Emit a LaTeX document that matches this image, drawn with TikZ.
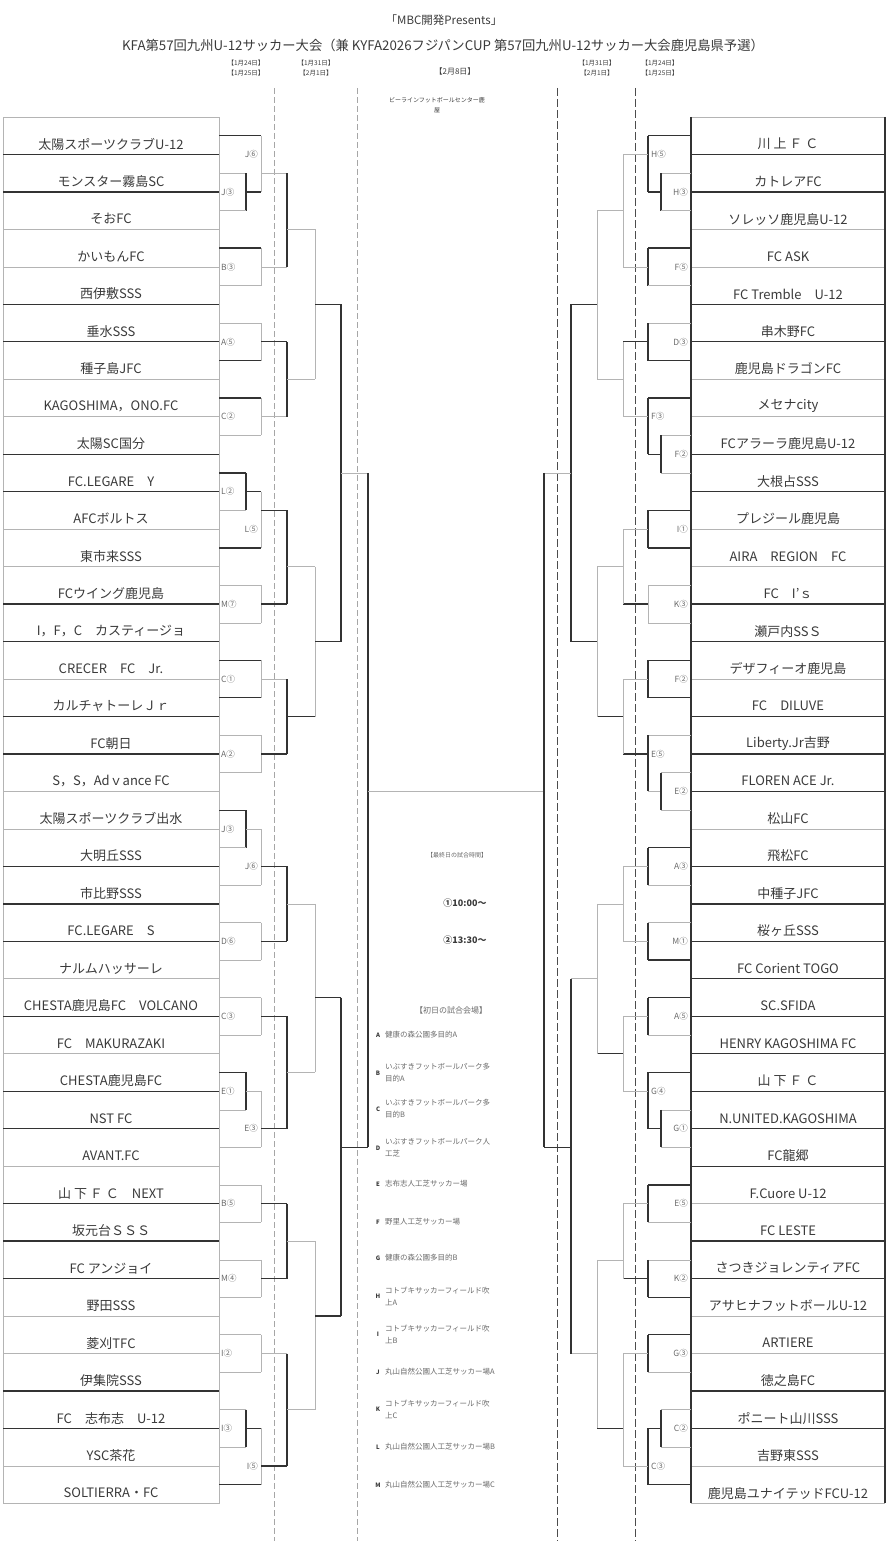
\documentclass[tikz,border=0pt]{standalone}
\usepackage{fontspec}
\setmainfont{Noto Sans CJK JP}
\usetikzlibrary{positioning}
\definecolor{thinline}{HTML}{B4B4B4}
\definecolor{thickline}{HTML}{333333}
\definecolor{inkgray}{HTML}{3A3A3A}
\definecolor{lightink}{HTML}{6A6A6A}
\tikzset{
  team/.style={font=\fontsize{13}{14}\selectfont, text=inkgray, inner sep=0pt},
  mlbl/.style={font=\fontsize{8.5}{9}\selectfont, text=lightink, inner sep=0pt},
  thn/.style={draw=thinline, line width=0.7pt},
  thk/.style={draw=thickline, line width=1.3pt},
  dshl/.style={draw=black!35, line width=0.6pt, dash pattern=on 6pt off 3pt},
  dshr/.style={draw=black!70, line width=0.8pt, dash pattern=on 8pt off 3pt},
  ttl/.style={font=\fontsize{11.5}{13}\selectfont, text=inkgray, inner sep=0pt},
  datel/.style={font=\fontsize{6.5}{10}\selectfont, text=inkgray, align=center, inner sep=0pt},
  note/.style={font=\fontsize{6}{8}\selectfont, text=lightink, inner sep=0pt, align=left},
  timel/.style={font=\fontsize{9}{10}\selectfont\bfseries, text=inkgray, inner sep=0pt},
  vlet/.style={font=\fontsize{6}{7}\selectfont\bfseries, text=inkgray, inner sep=0pt},
  vtxt/.style={font=\fontsize{7.5}{12}\selectfont, text=lightink, inner sep=0pt, align=left, anchor=west},
}
% left match box between two neighbouring teams
\newcommand{\lmatch}[7]{%
  \draw[#2] (219,#1) -- (261,#1);
  \draw[#3] (261,#1) -- (261,#1+2);
  \draw[#4] (219,#1+2) -- (261,#1+2);
  \draw[#5] (261,#1+1) -- (287,#1+1);
  \node[mlbl, anchor=west] (#7) at (221,#1+1) {#6};}
% right match box between two neighbouring teams
\newcommand{\rmatch}[7]{%
  \draw[#2] (648,#1) -- (691,#1);
  \draw[#3] (648,#1) -- (648,#1+2);
  \draw[#4] (648,#1+2) -- (691,#1+2);
  \draw[#5] (623,#1+1) -- (648,#1+1);
  \node[mlbl, anchor=east] (#7) at (688,#1+1) {#6};}

\begin{document}
\begin{tikzpicture}[x=1pt, y=-1pt]
  \useasboundingbox (0,0) rectangle (889,1541);

  % heading
  \node[ttl] (presents) at (444,20) {「MBC開発Presents」};
  \node[ttl, font=\fontsize{13.3}{15}\selectfont] (title) at (443,45)
    {KFA第57回九州U-12サッカー大会（兼 KYFA2026フジパンCUP 第57回九州U-12サッカー大会鹿児島県予選）};
  \node[datel] (dl1) at (246,68) {【1月24日】\\【1月25日】};
  \node[datel] (dl2) at (316,68) {【1月31日】\\【2月1日】};
  \node[datel, font=\fontsize{8}{9}\selectfont] (dfin) at (455,71) {【2月8日】};
  \node[datel] (dr2) at (597,68) {【1月31日】\\【2月1日】};
  \node[datel] (dr1) at (660,68) {【1月24日】\\【1月25日】};
  \node[datel, font=\fontsize{6}{10}\selectfont] (finvenue) at (437,105)
    {ビーラインフットボールセンター鹿\\屋};

  % day separators
  \draw[dshl] (274,88) -- (274,1541);
  \draw[dshl] (357,88) -- (357,1541);
  \draw[dshr] (557,88) -- (557,1541);
  \draw[dshr] (635,88) -- (635,1541);

  \begin{scope}[shift={(0,117)}, y=-18.735pt]
    % team columns
    \draw[thn] (3,0) rectangle (219,74);
    \draw[thn] (691,0) -- (885,0);
    \draw[thn] (691,74) -- (885,74);
    \foreach \w [count=\i] in {thk,thk,thn,thn,thk,thk,thn,thn,thk,thk,thn,thn,thk,thk,thn,thk,thk,thn,thn,thk,thk,thk,thn,thk,thn,thk,thk,thn,thk,thk,thk,thn,thn,thk,thk,thn,thn}
      \draw[\w] (3,2*\i) -- (219,2*\i);
    \foreach \w [count=\i] in {thk,thk,thn,thn,thk,thk,thn,thn,thk,thk,thn,thn,thk,thk,thn,thk,thk,thk,thn,thk,thk,thk,thk,thk,thk,thk,thk,thk,thn,thk,thk,thn,thn,thk,thk,thn,thn}
      \draw[\w] (691,2*\i) -- (885,2*\i);
    \draw[thk] (691,0) -- (691,74);
    \draw[thk] (885,0) -- (885,74);

    \foreach \t [count=\i from 0] in {太陽スポーツクラブU-12, モンスター霧島SC, そおFC, かいもんFC,
        西伊敷SSS, 垂水SSS, 種子島JFC, KAGOSHIMA，ONO.FC, 太陽SC国分, FC.LEGARE　Y, AFCボルトス,
        東市来SSS, FCウイング鹿児島, I，F，C　カスティージョ, CRECER　FC　Jr., カルチャトーレＪｒ,
        FC朝日, S，S，Adｖance FC, 太陽スポーツクラブ出水, 大明丘SSS, 市比野SSS, FC.LEGARE　S,
        ナルムハッサーレ, CHESTA鹿児島FC　VOLCANO, FC　MAKURAZAKI, CHESTA鹿児島FC, NST FC,
        AVANT.FC, 山 下 Ｆ Ｃ　NEXT, 坂元台ＳＳＳ, FC アンジョイ, 野田SSS, 菱刈TFC, 伊集院SSS,
        FC　志布志　U-12, YSC茶花, SOLTIERRA・FC}
      \node[team] (lt\i) at (111,2*\i+1.45) {\t};
    \foreach \t [count=\i from 0] in {川 上 Ｆ Ｃ, カトレアFC, ソレッソ鹿児島U-12, FC ASK,
        FC Tremble　U-12, 串木野FC, 鹿児島ドラゴンFC, メセナcity, FCアラーラ鹿児島U-12, 大根占SSS,
        プレジール鹿児島, AIRA　REGION　FC, FC　I’ｓ, 瀬戸内SSＳ, デザフィーオ鹿児島, FC　DILUVE,
        Liberty.Jr吉野, FLOREN ACE Jr., 松山FC, 飛松FC, 中種子JFC, 桜ヶ丘SSS, FC Corient TOGO,
        SC.SFIDA, HENRY KAGOSHIMA FC, 山 下 Ｆ Ｃ, N.UNITED.KAGOSHIMA, FC龍郷, F.Cuore U-12,
        FC LESTE, さつきジョレンティアFC, アサヒナフットボールU-12, ARTIERE, 徳之島FC,
        ポニート山川SSS, 吉野東SSS, 鹿児島ユナイテッドFCU-12}
      \node[team] (rt\i) at (788,2*\i+1.45) {\t};

    % left block 1
    \draw[thk] (219,1) -- (261,1);
    \draw[thn] (261,1) -- (261,4);
    \draw[thn] (219,3) -- (246,3);
    \draw[thk] (246,3) -- (246,5);
    \draw[thn] (219,5) -- (246,5);
    \draw[thk] (246,4) -- (261,4);
    \draw[thn] (261,3) -- (287,3);
    \node[mlbl, anchor=west] (lj3a) at (221,4) {J③};
    \node[mlbl, anchor=east] (lj6a) at (258,2) {J⑥};
    \lmatch{7}{thk}{thn}{thn}{thn}{B③}{lb3}
    \draw[thk] (287,3) -- (287,8);
    \draw[thn] (287,6) -- (315,6);
    \lmatch{11}{thn}{thn}{thk}{thk}{A⑤}{la5}
    \lmatch{15}{thk}{thn}{thn}{thn}{C②}{lc2}
    \draw[thk] (287,12) -- (287,16);
    \draw[thn] (287,14) -- (315,14);
    \draw[thn] (315,6) -- (315,14);
    \draw[thk] (315,10) -- (341,10);

    % left block 2
    \draw[thk] (219,19) -- (246,19);
    \draw[thk] (246,19) -- (246,21);
    \draw[thn] (219,21) -- (246,21);
    \draw[thk] (246,20) -- (261,20);
    \draw[thn] (261,20) -- (261,23);
    \draw[thk] (219,23) -- (261,23);
    \draw[thk] (261,21) -- (287,21);
    \node[mlbl, anchor=west] (ll2) at (221,20) {L②};
    \node[mlbl, anchor=east] (ll5) at (258,22) {L⑤};
    \lmatch{25}{thn}{thn}{thn}{thk}{M⑦}{lm7}
    \draw[thk] (287,21) -- (287,26);
    \draw[thn] (287,24) -- (315,24);
    \lmatch{29}{thk}{thn}{thk}{thn}{C①}{lc1}
    \lmatch{33}{thn}{thn}{thn}{thk}{A②}{la2}
    \draw[thk] (287,30) -- (287,34);
    \draw[thk] (287,32) -- (315,32);
    \draw[thn] (315,24) -- (315,32);
    \draw[thk] (315,28) -- (341,28);
    \draw[thk] (341,10) -- (341,28);
    \draw[thn] (341,19) -- (368,19);

    % left block 3
    \draw[thk] (219,37) -- (246,37);
    \draw[thk] (246,37) -- (246,39);
    \draw[thn] (219,39) -- (246,39);
    \draw[thn] (246,38) -- (261,38);
    \draw[thn] (261,38) -- (261,41);
    \draw[thn] (219,41) -- (261,41);
    \draw[thk] (261,40) -- (287,40);
    \node[mlbl, anchor=west] (lj3b) at (221,38) {J③};
    \node[mlbl, anchor=east] (lj6b) at (258,40) {J⑥};
    \lmatch{43}{thn}{thn}{thn}{thk}{D⑥}{ld6}
    \draw[thk] (287,40) -- (287,44);
    \draw[thn] (287,42) -- (315,42);
    \lmatch{47}{thn}{thn}{thn}{thk}{C③}{lc3}
    \draw[thk] (219,51) -- (246,51);
    \draw[thk] (246,51) -- (246,53);
    \draw[thn] (219,53) -- (246,53);
    \draw[thn] (246,52) -- (261,52);
    \draw[thn] (261,52) -- (261,55);
    \draw[thn] (219,55) -- (261,55);
    \draw[thk] (261,54) -- (287,54);
    \node[mlbl, anchor=west] (le1) at (221,52) {E①};
    \node[mlbl, anchor=east] (le3) at (258,54) {E③};
    \draw[thk] (287,48) -- (287,54);
    \draw[thn] (287,51) -- (315,51);
    \draw[thn] (315,42) -- (315,51);
    \draw[thk] (315,47) -- (341,47);

    % left block 4
    \lmatch{57}{thn}{thn}{thn}{thk}{B⑤}{lb5}
    \lmatch{61}{thn}{thn}{thn}{thk}{M④}{lm4}
    \draw[thk] (287,58) -- (287,62);
    \draw[thn] (287,60) -- (315,60);
    \lmatch{65}{thn}{thn}{thn}{thn}{I②}{li2}
    \draw[thn] (219,69) -- (246,69);
    \draw[thk] (246,69) -- (246,71);
    \draw[thn] (219,71) -- (246,71);
    \draw[thk] (246,70) -- (261,70);
    \draw[thn] (261,70) -- (261,73);
    \draw[thk] (219,73) -- (261,73);
    \draw[thk] (261,72) -- (287,72);
    \node[mlbl, anchor=west] (li3) at (221,70) {I③};
    \node[mlbl, anchor=east] (li5) at (258,72) {I⑤};
    \draw[thk] (287,66) -- (287,72);
    \draw[thn] (287,69) -- (315,69);
    \draw[thn] (315,60) -- (315,69);
    \draw[thk] (315,64) -- (341,64);
    \draw[thk] (341,47) -- (341,64);
    \draw[thk] (341,55) -- (368,55);
    \draw[thk] (368,19) -- (368,55);

    % final
    \draw[thn] (368,36) -- (544,36);

    % right block 1
    \draw[thk] (648,1) -- (691,1);
    \draw[thk] (648,1) -- (648,4);
    \draw[thk] (648,4) -- (661,4);
    \draw[thn] (661,3) -- (691,3);
    \draw[thk] (661,3) -- (661,5);
    \draw[thn] (661,5) -- (691,5);
    \draw[thn] (623,2) -- (648,2);
    \node[mlbl, anchor=west] (rh5) at (651,2) {H⑤};
    \node[mlbl, anchor=east] (rh3) at (688,4) {H③};
    \rmatch{7}{thk}{thk}{thn}{thn}{F⑤}{rf5}
    \draw[thn] (623,2) -- (623,8);
    \draw[thn] (597,5) -- (623,5);
    \rmatch{11}{thn}{thk}{thk}{thk}{D③}{rd3}
    \draw[thk] (648,15) -- (691,15);
    \draw[thk] (648,15) -- (648,18);
    \draw[thk] (648,18) -- (661,18);
    \draw[thn] (661,17) -- (691,17);
    \draw[thk] (661,17) -- (661,19);
    \draw[thn] (661,19) -- (691,19);
    \draw[thn] (623,16) -- (648,16);
    \node[mlbl, anchor=west] (rf3) at (651,16) {F③};
    \node[mlbl, anchor=east] (rf2a) at (688,18) {F②};
    \draw[thn] (623,12) -- (623,16);
    \draw[thn] (597,14) -- (623,14);
    \draw[thn] (597,5) -- (597,14);
    \draw[thk] (571,10) -- (597,10);

    % right block 2
    \rmatch{21}{thk}{thk}{thk}{thn}{I①}{ri1}
    \rmatch{25}{thn}{thn}{thn}{thk}{K③}{rk3}
    \draw[thn] (623,22) -- (623,26);
    \draw[thn] (597,24) -- (623,24);
    \rmatch{29}{thk}{thk}{thk}{thn}{F②}{rf2b}
    \draw[thn] (648,33) -- (691,33);
    \draw[thk] (648,33) -- (648,36);
    \draw[thn] (648,36) -- (661,36);
    \draw[thn] (661,35) -- (691,35);
    \draw[thk] (661,35) -- (661,37);
    \draw[thn] (661,37) -- (691,37);
    \draw[thk] (623,34) -- (648,34);
    \node[mlbl, anchor=west] (re5a) at (651,34) {E⑤};
    \node[mlbl, anchor=east] (re2) at (688,36) {E②};
    \draw[thn] (623,30) -- (623,34);
    \draw[thk] (597,32) -- (623,32);
    \draw[thn] (597,24) -- (597,32);
    \draw[thk] (571,28) -- (597,28);
    \draw[thk] (571,10) -- (571,28);
    \draw[thn] (544,19) -- (571,19);

    % right block 3
    \rmatch{39}{thk}{thk}{thn}{thn}{A③}{ra3}
    \rmatch{43}{thn}{thk}{thk}{thn}{M①}{rm1}
    \draw[thn] (623,40) -- (623,44);
    \draw[thn] (597,42) -- (623,42);
    \rmatch{47}{thk}{thk}{thn}{thn}{A⑤}{ra5}
    \draw[thk] (648,51) -- (691,51);
    \draw[thk] (648,51) -- (648,54);
    \draw[thk] (648,54) -- (661,54);
    \draw[thn] (661,53) -- (691,53);
    \draw[thk] (661,53) -- (661,55);
    \draw[thn] (661,55) -- (691,55);
    \draw[thn] (623,52) -- (648,52);
    \node[mlbl, anchor=west] (rg4) at (651,52) {G④};
    \node[mlbl, anchor=east] (rg1) at (688,54) {G①};
    \draw[thn] (623,48) -- (623,52);
    \draw[thk] (597,50) -- (623,50);
    \draw[thn] (597,42) -- (597,50);
    \draw[thn] (571,46) -- (597,46);

    % right block 4
    \rmatch{57}{thk}{thk}{thn}{thn}{E⑤}{re5b}
    \rmatch{61}{thn}{thk}{thk}{thk}{K②}{rk2}
    \draw[thn] (623,58) -- (623,62);
    \draw[thn] (597,61) -- (623,61);
    \rmatch{65}{thk}{thk}{thn}{thn}{G③}{rg3}
    \draw[thn] (661,69) -- (691,69);
    \draw[thk] (661,69) -- (661,71);
    \draw[thn] (661,71) -- (691,71);
    \draw[thk] (648,70) -- (661,70);
    \draw[thk] (648,70) -- (648,73);
    \draw[thk] (648,73) -- (691,73);
    \draw[thn] (623,72) -- (648,72);
    \node[mlbl, anchor=east] (rc2) at (688,70) {C②};
    \node[mlbl, anchor=west] (rc3) at (651,72) {C③};
    \draw[thn] (623,66) -- (623,72);
    \draw[thk] (597,70) -- (623,70);
    \draw[thn] (597,61) -- (597,70);
    \draw[thn] (571,66) -- (597,66);
    \draw[thk] (571,46) -- (571,66);
    \draw[thk] (544,55) -- (571,55);
    \draw[thk] (544,19) -- (544,55);
  \end{scope}

  % final day notes
  \node[note] (lastday) at (457,855) {【最終日の試合時間】};
  \node[timel] (time1) at (465,903) {①10:00～};
  \node[timel] (time2) at (465,940) {②13:30～};
  \node[note, font=\fontsize{8}{9}\selectfont] (firstday) at (451,1010) {【初日の試合会場】};
  \foreach \l/\y/\txt in {A/1035/健康の森公園多目的A,
      B/1073/{いぶすきフットボールパーク多\\目的A},
      C/1109/{いぶすきフットボールパーク多\\目的B},
      D/1148/{いぶすきフットボールパーク人\\工芝},
      E/1184/志布志人工芝サッカー場,
      F/1222/野里人工芝サッカー場,
      G/1258/健康の森公園多目的B,
      H/1296/{コトブキサッカーフィールド吹\\上A},
      I/1334/{コトブキサッカーフィールド吹\\上B},
      J/1372/丸山自然公園人工芝サッカー場A,
      K/1409/{コトブキサッカーフィールド吹\\上C},
      L/1447/丸山自然公園人工芝サッカー場B,
      M/1485/丸山自然公園人工芝サッカー場C} {
    \node[vlet] (v\l) at (378,\y) {\l};
    \node[vtxt] (vt\l) at (385,\y) {\txt};
  }
\end{tikzpicture}
\end{document}
